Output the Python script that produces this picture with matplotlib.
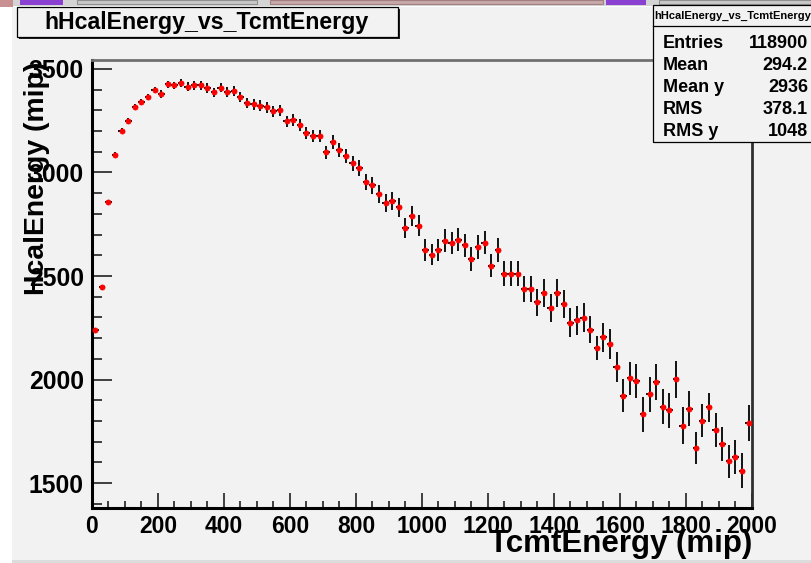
import numpy as np
import matplotlib.pyplot as plt
from matplotlib.patches import Rectangle
from matplotlib.lines import Line2D
from matplotlib.ticker import MultipleLocator

W, H = 812, 563
bg = '#f2f2f2'

# histogram binning (TcmtEnergy axis)
n_bins, x_low, x_high = 100, 0, 2000

# profile content: mean HcalEnergy per TcmtEnergy bin
hcal_mean = [
    2241, 2445, 2856, 3086, 3202, 3247, 3316, 3339, 3365, 3399,
    3378, 3426, 3420, 3431, 3415, 3421, 3421, 3408, 3387, 3410,
    3389, 3395, 3366, 3334, 3329, 3323, 3315, 3296, 3300, 3247,
    3252, 3228, 3191, 3175, 3175, 3097, 3147, 3110, 3081, 3044,
    3023, 2956, 2938, 2896, 2851, 2864, 2832, 2730, 2788, 2743,
    2626, 2603, 2626, 2671, 2659, 2675, 2648, 2582, 2639, 2661,
    2550, 2626, 2511, 2511, 2511, 2436, 2436, 2374, 2418, 2347,
    2418, 2363, 2274, 2286, 2299, 2241, 2154, 2204, 2170, 2060,
    1923, 2006, 1994, 1832, 1929, 1989, 1870, 1851, 2001, 1778,
    1859, 1670, 1802, 1867, 1757, 1687, 1605, 1626, 1561, 1790,
]
hcal_err = [
    10, 12, 12, 12, 12, 14, 14, 15, 16, 16,
    18, 18, 19, 20, 20, 21, 22, 22, 22, 23,
    23, 24, 24, 25, 25, 26, 26, 27, 27, 28,
    28, 29, 29, 30, 30, 31, 32, 33, 34, 36,
    38, 39, 40, 42, 43, 44, 45, 48, 48, 50,
    52, 52, 53, 55, 55, 55, 56, 57, 57, 57,
    56, 58, 60, 60, 61, 63, 63, 65, 66, 68,
    67, 68, 70, 70, 70, 66, 58, 70, 72, 74,
    80, 80, 82, 85, 84, 86, 86, 86, 90, 88,
    84, 79, 80, 70, 82, 82, 81, 84, 86, 88,
]

stats_title = 'hHcalEnergy_vs_TcmtEnergy'
stats_labels = ['Entries', 'Mean', 'Mean y', 'RMS', 'RMS y']
stats_values = ['118900', '294.2', '2936', '378.1', '1048']

plt.rcParams['font.family'] = ['Liberation Sans', 'DejaVu Sans']

fig = plt.figure(figsize=(W / 100, H / 100), dpi=100)
fig.patch.set_facecolor('white')


def rect(x0, y0, x1, y1, z=-1, **kw):
    fig.patches.append(Rectangle((x0 / W, 1 - y1 / H), (x1 - x0) / W, (y1 - y0) / H,
                                 transform=fig.transFigure, figure=fig, zorder=z, **kw))


def fx(x):
    return x / W


def fy(y):
    return 1 - y / H


# screenshot leftovers: toolbar strip on top, canvas
rect(0, 0, 812, 6, facecolor='#d4d4d4', edgecolor='none')
rect(0, 0, 13, 7, facecolor='#c89090', edgecolor='none')
rect(20, 0, 63, 5, facecolor='#8a40d0', edgecolor='none')
rect(77, 0, 257, 4, facecolor='#c8c8c8', edgecolor='#909090', lw=0.8)
rect(270, 0, 603, 4, facecolor='#c8a8a8', edgecolor='#a08080', lw=0.8)
rect(606, 0, 646, 5, facecolor='#8a40d0', edgecolor='none')
rect(659, 0, 812, 4, facecolor='#c8c8c8', edgecolor='#909090', lw=0.8)
rect(12, 7, 812, 561, facecolor=bg, edgecolor='none')
rect(12, 560, 812, 563, facecolor='#dcdcdc', edgecolor='none')

ax = fig.add_axes([92 / W, 1 - 508 / H, 660 / W, 448 / H])
ax.set_zorder(1)
ax.set_facecolor(bg)

edges = np.linspace(x_low, x_high, n_bins + 1)
centers = 0.5 * (edges[:-1] + edges[1:])
half_w = 0.5 * (edges[1:] - edges[:-1])

ax.errorbar(centers, hcal_mean, xerr=half_w, yerr=hcal_err, fmt='none',
            ecolor='black', elinewidth=1.3, capsize=0, zorder=2)
ax.plot(centers, hcal_mean, 'o', color='red', ms=3.7, mec='red', mew=0.5, zorder=3)

ax.set_xlim(x_low, x_high)
ax.set_ylim(1380, 3543)
ax.set_xticks(np.arange(0, 2001, 200))
ax.set_yticks(np.arange(1500, 3501, 500))
ax.xaxis.set_minor_locator(MultipleLocator(50))
ax.yaxis.set_minor_locator(MultipleLocator(100))

ax.tick_params(axis='x', which='major', direction='in', length=10.5, width=1.2, pad=5)
ax.tick_params(axis='x', which='minor', direction='in', length=5, width=1.2)
ax.tick_params(axis='y', which='major', direction='in', length=14.4, width=1.2, pad=6)
ax.tick_params(axis='y', which='minor', direction='in', length=7.2, width=1.2)
ax.tick_params(colors='#202020', which='both')
ax.tick_params(labelcolor='black')

for lab in ax.get_xticklabels():
    lab.set_fontsize(16.5)
    lab.set_fontweight('bold')
for lab in ax.get_yticklabels():
    lab.set_fontsize(17.8)
    lab.set_fontweight('bold')

ax.spines['left'].set_linewidth(2.2)
ax.spines['bottom'].set_linewidth(2.2)
ax.spines['left'].set_color('black')
ax.spines['bottom'].set_color('black')
ax.spines['top'].set_color('#707070')
ax.spines['top'].set_linewidth(2)
ax.spines['right'].set_color('#303030')
ax.spines['right'].set_linewidth(2)

# axis titles (ROOT style, right aligned)
fig.text(fx(752), fy(552), 'TcmtEnergy (mip)', ha='right', va='baseline',
         fontsize=22.5, fontweight='bold', zorder=6)
fig.text(fx(37), fy(62), 'HcalEnergy (mip)', ha='center', va='top', rotation=90,
         fontsize=20.4, fontweight='bold', zorder=6)

# title box with shadow
rect(19, 9, 400, 39, z=5, facecolor='#202020', edgecolor='none')
rect(17, 7, 398, 37, z=5, facecolor=bg, edgecolor='black', lw=0.9)
fig.text(fx(207), fy(22.5), 'hHcalEnergy_vs_TcmtEnergy', ha='center', va='center',
         fontsize=16.7, fontweight='bold', zorder=6)

# stats box
rect(653, 5, 814, 142, z=5, facecolor=bg, edgecolor='black', lw=0.9)
fig.lines.append(Line2D([fx(653), fx(812)], [fy(26), fy(26)], transform=fig.transFigure,
                        color='black', lw=0.9, zorder=6))
fig.text(fx(733), fy(16), stats_title, ha='center', va='center',
         fontsize=8, fontweight='bold', zorder=6)
for i, (lab, val) in enumerate(zip(stats_labels, stats_values)):
    yy = 43 + 22 * i
    fig.text(fx(663), fy(yy), lab, ha='left', va='center', fontsize=13, fontweight='bold', zorder=6)
    fig.text(fx(808), fy(yy), val, ha='right', va='center', fontsize=13, fontweight='bold', zorder=6)

fig.savefig('out.png', dpi=100, facecolor=fig.get_facecolor())
